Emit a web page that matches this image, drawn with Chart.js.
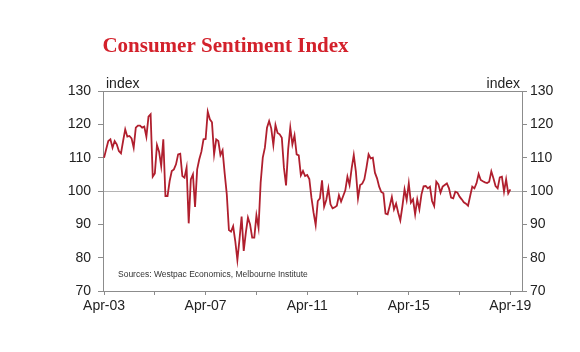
<!DOCTYPE html>
<html>
<head>
<meta charset="utf-8">
<script src="https://cdn.jsdelivr.net/npm/chart.js@4"></script>
<style>
  body { margin: 0; background: #fff; }
  canvas { display: block; }
</style>
</head>
<body>
<canvas id="myChart" width="580" height="352"></canvas>
<script>
// monthly index, Apr-03 .. Apr-19
const sentiment = [
  110, 112.5, 115, 115.5, 113, 115, 114, 112, 111.3, 115, 118.5, 116.3,
  116.5, 115.8, 113, 119, 119.6, 119.6, 119, 119.3, 116.3, 122.3, 123, 104.3,
  105.3, 113.8, 111.8, 107.5, 115.5, 98.5, 98.5, 103, 106, 106.5, 108, 111,
  111.2, 104.5, 104, 107, 90.3, 103.5, 105, 95.2, 106.5, 109.5, 111.8, 115.5,
  115.6, 123.8, 121.5, 120.6, 111, 115.5, 115, 110.8, 112.2, 105.3, 99, 88.3,
  87.8, 89.4, 85, 79.3, 85.5, 92.3, 82, 87.5, 92, 90, 86, 86,
  92.7, 89, 102.5, 110, 113, 119, 121, 118.8, 113.8, 119.8, 117.4, 117,
  116, 107, 101.7, 112.5, 119, 114, 116.7, 111, 110.7, 104.7, 106, 104.5,
  104.8, 103.6, 98, 93.5, 89.8, 97, 97.8, 103.2, 95.3, 97.3, 100.8, 96,
  94.8, 95.1, 95.6, 98.7, 96.8, 98.5, 100.2, 104.3, 101.8, 106.8, 110.8, 105.8,
  97.8, 101.8, 102.2, 103.5, 107, 111, 109.8, 110, 105.5, 103.8, 101.3, 99.7,
  99.3, 93.2, 93, 95.5, 98.2, 94.5, 96.2, 93.5, 91.2, 95.5, 100.5, 97.3,
  102.3, 96.5, 97.5, 93, 97.5, 94.5, 99, 101.4, 101.5, 100.8, 101.3, 97,
  95.5, 102.8, 102, 99.5, 101.3, 101.8, 102.3, 100.8, 98, 97.8, 99.8, 99.5,
  98.3, 97.5, 96.6, 96.2, 95.6, 98.5, 101.3, 100.8, 102.3, 105.1, 103.3, 102.9,
  102.6, 102.4, 102.8, 105.9, 103.8, 101.5, 100.8, 104.1, 104.3, 99.8, 103.5, 99.3,
  100.5
];
const xTickMonths = [0, 24, 48, 72, 96, 120, 144, 168, 192];
const xTickLabels = ['Apr-03', 'Apr-07', 'Apr-11', 'Apr-15', 'Apr-19'];

const axisGrey = '#8c8c8c';
const labelFont = { family: '"Liberation Sans", Arial, sans-serif', size: 14 };

// title, axis units and source note
const extras = {
  id: 'extras',
  afterDraw(chart) {
    const c = chart.ctx;
    c.save();
    c.fillStyle = '#d3212b';
    c.font = 'bold 21px "Liberation Serif", "Times New Roman", serif';
    c.textAlign = 'center';
    c.textBaseline = 'alphabetic';
    c.fillText('Consumer Sentiment Index', 225.5, 52);

    c.fillStyle = '#222';
    c.font = '14px "Liberation Sans", Arial, sans-serif';
    c.textAlign = 'left';
    c.fillText('index', 106, 88);
    c.textAlign = 'right';
    c.fillText('index', 520, 88);

    c.fillStyle = '#333';
    c.font = '8.5px "Liberation Sans", Arial, sans-serif';
    c.textAlign = 'left';
    c.fillText('Sources: Westpac Economics, Melbourne Institute', 118, 277);
    c.restore();
  }
};

const ctx = document.getElementById('myChart');
new Chart(ctx, {
  type: 'line',
  data: {
    datasets: [{
      data: sentiment.map((v, i) => ({ x: i, y: v })),
      borderColor: '#b01f2e',
      borderWidth: 1.8,
      pointRadius: 0,
      tension: 0
    }]
  },
  options: {
    responsive: false,
    animation: false,
    devicePixelRatio: 1,
    layout: { padding: { top: 91, left: 0, right: 0, bottom: 0 } },
    plugins: { legend: { display: false }, tooltip: { enabled: false } },
    scales: {
      x: {
        type: 'linear',
        min: -0.5,
        max: 197.5,
        afterBuildTicks: s => { s.ticks = xTickMonths.map(v => ({ value: v })); },
        afterFit: s => { s.height = 61; },
        ticks: {
          autoSkip: false,
          maxRotation: 0,
          padding: 3,
          color: '#222',
          font: labelFont,
          callback: v => (v % 48 === 0 ? xTickLabels[v / 48] : '')
        },
        grid: { drawOnChartArea: false, tickLength: 4, color: axisGrey },
        border: { color: axisGrey }
      },
      y: {
        position: 'left',
        min: 70,
        max: 130,
        afterFit: s => { s.width = 103; },
        ticks: { stepSize: 10, padding: 7, color: '#222', font: labelFont },
        grid: {
          tickLength: 5,
          tickColor: axisGrey,
          color: c => (c.tick.value === 100 ? '#b4b4b4' : c.tick.value === 130 ? axisGrey : 'transparent')
        },
        border: { color: axisGrey }
      },
      y2: {
        position: 'right',
        min: 70,
        max: 130,
        afterFit: s => { s.width = 58; },
        ticks: { stepSize: 10, padding: 3, color: '#222', font: labelFont },
        grid: { drawOnChartArea: false, tickLength: 5, color: axisGrey },
        border: { color: axisGrey }
      }
    }
  },
  plugins: [extras]
});
</script>
</body>
</html>
